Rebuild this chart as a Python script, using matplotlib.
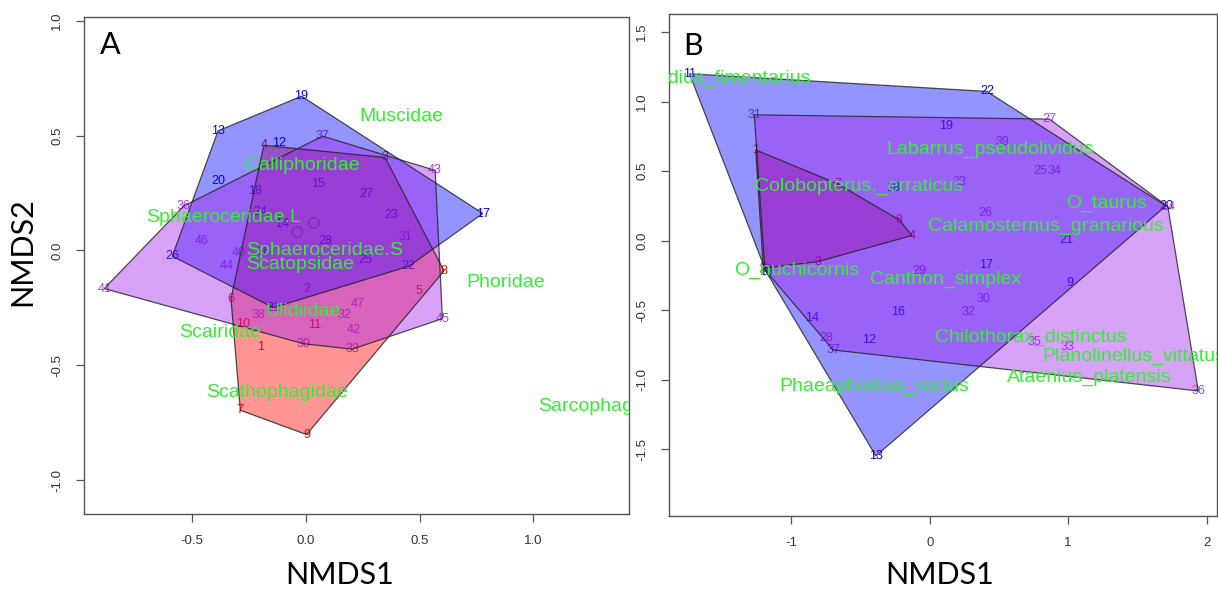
import numpy as np
import matplotlib
matplotlib.use('Agg')
import matplotlib.pyplot as plt
from matplotlib.patches import Polygon

# ---- Panel A : families ----
a_blue_id = ['12', '13', '14', '15', '16', '17', '18', '19', '20', '21', '22', '23', '24', '25', '26', '27', '28']
a_blue_x = [-0.117, -0.386, -0.106, 0.054, -0.187, 0.778, -0.223, -0.019, -0.386, -0.143, 0.452, 0.375, -0.201, 0.262, -0.587, 0.265, 0.083]
a_blue_y = [0.470, 0.521, 0.117, 0.291, -0.007, 0.161, 0.259, 0.672, 0.303, -0.249, -0.069, 0.153, 0.168, -0.043, -0.025, 0.248, 0.041]

a_red_id = ['1', '2', '3', '4', '5', '6', '7', '8', '9', '10', '11']
a_red_x = [-0.197, 0.006, 0.348, -0.185, 0.498, -0.329, -0.288, 0.607, 0.003, -0.277, 0.039]
a_red_y = [-0.420, -0.170, 0.405, 0.458, -0.176, -0.210, -0.696, -0.089, -0.802, -0.319, -0.326]

a_pur_id = ['30', '31', '32', '33', '36', '37', '38', '40', '41', '42', '43', '44', '45', '46', '47']
a_pur_x = [-0.012, 0.440, 0.170, 0.204, -0.536, 0.073, -0.208, -0.296, -0.886, 0.210, 0.568, -0.347, 0.600, -0.459, 0.229]
a_pur_y = [-0.406, 0.060, -0.282, -0.430, 0.194, 0.498, -0.282, -0.011, -0.166, -0.348, 0.349, -0.068, -0.297, 0.041, -0.234]

a_spp = ['Muscidae', 'Calliphoridae', 'Sphaeroceridae.L', 'Sphaeroceridae.S', 'Scatopsidae', 'Phoridae',
         'Ulidiidae', 'Scairidae', 'Scathophagidae', 'Sarcophagidae']
a_spp_x = [0.418, -0.016, -0.361, 0.083, -0.026, 0.878, -0.012, -0.376, -0.128, 1.311]
a_spp_y = [0.582, 0.371, 0.143, 0.001, -0.060, -0.139, -0.268, -0.359, -0.617, -0.679]

a_circ_x = [-0.038, 0.035]
a_circ_y = [0.081, 0.120]

# ---- Panel B : beetles ----
b_blue_id = ['9', '10', '11', '12', '13', '14', '16', '17', '18', '19', '20', '21', '22']
b_blue_x = [1.014, -1.182, -1.735, -0.438, -0.389, -0.853, -0.229, 0.404, -0.265, 0.115, 1.706, 0.985, 0.413]
b_blue_y = [-0.301, -0.222, 1.200, -0.714, -1.548, -0.558, -0.510, -0.174, 0.378, 0.828, 0.250, 0.006, 1.073]

b_red_id = ['1', '2', '3', '4', '7', '8']
b_red_x = [-1.257, -1.202, -0.805, -0.128, -0.666, -0.221]
b_red_y = [0.653, -0.198, -0.150, 0.037, 0.409, 0.150]

b_pur_id = ['23', '24', '25', '26', '27', '28', '29', '30', '31', '32', '33', '34', '35', '36', '37', '38', '39']
b_pur_x = [0.216, 1.720, 0.797, 0.404, 0.865, -0.745, -0.072, 0.389, -1.267, 0.277, 0.997, 0.901, 0.757, 1.940, -0.697, -1.190, 0.529]
b_pur_y = [0.425, 0.245, 0.504, 0.198, 0.874, -0.702, -0.215, -0.421, 0.905, -0.514, -0.766, 0.504, -0.726, -1.081, -0.786, -0.210, 0.713]

b_spp = ['Aphodius_fimentarius', 'Labarrus_pseudolividus', 'Colobopterus._erraticus', 'O_taurus',
         'Calamosternus_granarious', 'O_nuchicornis', 'Canthon_simplex', 'Chilothorax_distinctus',
         'Planolinellus_vittatus', 'Ataenius_platensis', 'Phaeaphodius_rectus']
b_spp_x = [-1.536, 0.436, -0.513, 1.279, 0.841, -0.961, 0.115, 0.733, 1.472, 1.153, -0.403]
b_spp_y = [1.169, 0.658, 0.389, 0.265, 0.101, -0.215, -0.277, -0.695, -0.834, -0.982, -1.050]

BLUE = '#0000ff'
RED = '#ff0000'
PURPLE = '#a020f0'
GREEN = '#33ee33'
NUM = 'Liberation Sans'


def hull(x, y):
    pts = sorted(set(zip(x, y)))
    def cross(o, a, b):
        return (a[0] - o[0]) * (b[1] - o[1]) - (a[1] - o[1]) * (b[0] - o[0])
    lower, upper = [], []
    for p in pts:
        while len(lower) >= 2 and cross(lower[-2], lower[-1], p) <= 0:
            lower.pop()
        lower.append(p)
    for p in reversed(pts):
        while len(upper) >= 2 and cross(upper[-2], upper[-1], p) <= 0:
            upper.pop()
        upper.append(p)
    return lower[:-1] + upper[:-1]


def panel(ax, groups, spp, spp_x, spp_y, xlim, ylim, xticks, yticks, xfmt, circ=None):
    # site numbers under the hulls
    for ids, xs, ys, col, lcol in groups:
        for t, x, y in zip(ids, xs, ys):
            ax.text(x, y, t, color=lcol, fontsize=9, family=NUM, ha='center', va='center',
                    clip_on=True, zorder=1)
    if circ is not None:
        ax.scatter(circ[0], circ[1], s=55, facecolors='none', edgecolors='#7aa05a',
                   linewidths=1.0, zorder=1)
    for ids, xs, ys, col, lcol in groups:
        h = hull(xs, ys)
        ax.add_patch(Polygon(h, closed=True, facecolor=col, alpha=0.42, edgecolor='none', zorder=2))
        ax.add_patch(Polygon(h, closed=True, facecolor='none', edgecolor='#222222', alpha=0.8,
                             linewidth=0.9, zorder=3))
    for t, x, y in zip(spp, spp_x, spp_y):
        ax.text(x, y, t, color=GREEN, fontsize=14, family=NUM, ha='center', va='center',
                clip_on=True, zorder=5)
    ax.set_xlim(xlim)
    ax.set_ylim(ylim)
    ax.set_xticks(xticks)
    ax.set_yticks(yticks)
    ax.set_xticklabels([xfmt.format(v) for v in xticks])
    ax.set_yticklabels(['{:.1f}'.format(v) for v in yticks], rotation=90, va='center')
    for s in ax.spines.values():
        s.set_color('#555555')
        s.set_linewidth(1.0)
    ax.tick_params(direction='out', length=6, width=0.9, color='#555555', labelcolor='#333333',
                   labelsize=9.5, pad=9)
    for lab in ax.get_xticklabels() + ax.get_yticklabels():
        lab.set_family(NUM)


fig = plt.figure(figsize=(12.18, 5.90), dpi=100)

axA = fig.add_axes([84 / 1218, 1 - 514 / 590, 545 / 1218, 497 / 590])
panel(axA,
      [(a_red_id, a_red_x, a_red_y, RED, RED),
       (a_blue_id, a_blue_x, a_blue_y, BLUE, BLUE),
       (a_pur_id, a_pur_x, a_pur_y, PURPLE, '#b03cf0')],
      a_spp, a_spp_x, a_spp_y,
      (-0.975, 1.42), (-1.148, 1.017), [-0.5, 0.0, 0.5, 1.0], [-1.0, -0.5, 0.0, 0.5, 1.0], '{:.1f}',
      circ=(a_circ_x, a_circ_y))
axA.text(0.048, 0.944, 'A', transform=axA.transAxes, fontsize=22, family='Lato', ha='center', va='center')

axB = fig.add_axes([669 / 1218, 1 - 516 / 590, 548 / 1218, 502 / 590])
panel(axB,
      [(b_red_id, b_red_x, b_red_y, RED, RED),
       (b_blue_id, b_blue_x, b_blue_y, BLUE, BLUE),
       (b_pur_id, b_pur_x, b_pur_y, PURPLE, '#b03cf0')],
      b_spp, b_spp_x, b_spp_y,
      (-1.883, 2.075), (-1.98, 1.63), [-1, 0, 1, 2], [-1.5, -1.0, -0.5, 0.0, 0.5, 1.0, 1.5], '{:d}')
axB.text(0.044, 0.936, 'B', transform=axB.transAxes, fontsize=22, family='Lato', ha='center', va='center')

fig.text(22 / 1218, 1 - 252 / 590, 'NMDS2', rotation=90, fontsize=22, family='Lato', ha='center', va='center')
fig.text(340 / 1218, 1 - 575 / 590, 'NMDS1', fontsize=22, family='Lato', ha='center', va='center')
fig.text(940 / 1218, 1 - 575 / 590, 'NMDS1', fontsize=22, family='Lato', ha='center', va='center')

plt.savefig('out.png', dpi=100)
